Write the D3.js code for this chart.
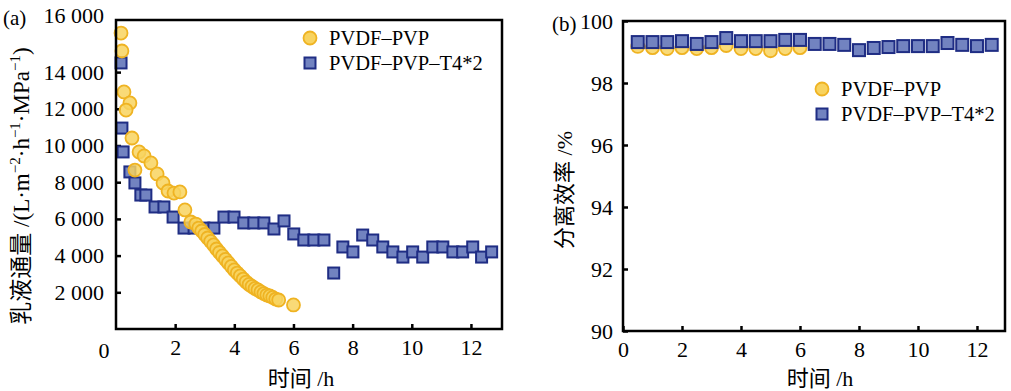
<!DOCTYPE html>
<html>
<head>
<meta charset="utf-8">
<script src="https://cdn.jsdelivr.net/npm/d3@7"></script>
<style>
  body { margin: 0; background: #fff; }
  svg { display: block; font-family: 'Liberation Serif', 'Times New Roman', 'Noto Sans CJK SC', serif; }
</style>
</head>
<body>
<svg id="chart" width="1011" height="391"></svg>
<script>
// (a) flux, PVDF-PVP (circles)
const fluxTimePVP = [0.17, 0.20, 0.27, 0.47, 0.34, 0.54, 0.78, 0.64, 0.95, 1.18, 1.39, 1.59, 1.76, 1.96, 2.16, 2.33, 2.53,
  2.7, 2.8, 2.9, 3.0, 3.1, 3.2, 3.3, 3.4, 3.5, 3.6, 3.7, 3.8, 3.9, 4.0, 4.1, 4.2, 4.3, 4.4, 4.5, 4.6, 4.7, 4.8, 4.9,
  5.0, 5.1, 5.2, 5.3, 5.4, 5.5, 6.0];
const fluxPVP = [16130, 15150, 12920, 12320, 11930, 10410, 9650, 8660, 9430, 9050, 8450, 7960, 7520, 7410, 7470, 6490, 5830,
  5720, 5500, 5340, 5150, 4960, 4770, 4580, 4360, 4170, 3980, 3790, 3600, 3410, 3220, 3050, 2890, 2720, 2560, 2430, 2320,
  2210, 2130, 2020, 1930, 1850, 1800, 1720, 1630, 1580, 1310];

// (a) flux, PVDF-PVP-T4*2 (squares)
const fluxTimeT4 = [0.17, 0.20, 0.24, 0.47, 0.64, 0.84, 1.01, 1.32, 1.62, 1.93, 2.30, 2.64, 2.97, 3.31, 3.65, 3.99, 4.32,
  4.66, 5.00, 5.34, 5.68, 6.01, 6.35, 6.69, 7.03, 7.36, 7.67, 8.01, 8.34, 8.68, 9.02, 9.36, 9.70, 10.03, 10.37, 10.71,
  11.05, 11.39, 11.72, 12.06, 12.36, 12.70];
const fluxT4 = [14500, 10950, 9650, 8560, 7960, 7300, 7300, 6650, 6650, 6100, 5500, 5500, 5500, 5500, 6100, 6100, 5780,
  5780, 5780, 5450, 5890, 5180, 4850, 4850, 4850, 3050, 4470, 4200, 5120, 4850, 4470, 4200, 3920, 4200, 3920, 4470,
  4470, 4200, 4200, 4470, 3920, 4200];

// (b) separation efficiency
const effTimePVP = [0.5, 1.0, 1.5, 2.0, 2.5, 3.0, 3.5, 4.0, 4.5, 5.0, 5.5, 6.0];
const effPVP = [99.18, 99.14, 99.11, 99.14, 99.11, 99.14, 99.21, 99.11, 99.11, 99.04, 99.11, 99.14];
const effTimeT4 = [0.5, 1.0, 1.5, 2.0, 2.5, 3.0, 3.5, 4.0, 4.5, 5.0, 5.5, 6.0, 6.5, 7.0, 7.5, 8.0, 8.5, 9.0, 9.5,
  10.0, 10.5, 11.0, 11.5, 12.0, 12.5];
const effT4 = [99.32, 99.32, 99.32, 99.35, 99.26, 99.32, 99.45, 99.35, 99.35, 99.35, 99.39, 99.39, 99.26, 99.26, 99.23,
  99.06, 99.13, 99.16, 99.19, 99.19, 99.19, 99.29, 99.23, 99.19, 99.23];

const seriesNames = ['PVDF\u2013PVP', 'PVDF\u2013PVP\u2013T4*2'];
const xTicks = [2, 4, 6, 8, 10, 12];
const fluxTicks = [2000, 4000, 6000, 8000, 10000, 12000, 14000];
const effTicks = [90, 92, 94, 96, 98, 100];

const circleFill = '#f8d35f', circleStroke = '#efb322';
const squareFill = '#7283c0', squareStroke = '#1f2d84';

const svg = d3.select('#chart');
const fmt = d3.formatLocale({ decimal: '.', thousands: ' ', grouping: [3], currency: ['', ''] }).format(',');

function styleAxis(g) {
  g.select('.domain').remove();
  g.selectAll('.tick line').attr('stroke', '#000').attr('stroke-width', 2.5);
  g.selectAll('.tick text').attr('font-size', 22).attr('fill', '#000')
    .attr('font-family', "'Liberation Serif', serif");
}

function drawCircles(g, xs, ys, x, y, r) {
  g.append('g').selectAll('circle')
    .data(xs.map((t, i) => ({ t, v: ys[i] })))
    .enter().append('circle')
    .attr('cx', d => x(d.t))
    .attr('cy', d => y(d.v))
    .attr('r', r)
    .attr('fill', circleFill)
    .attr('fill-opacity', 0.85)
    .attr('stroke', circleStroke)
    .attr('stroke-width', 1.8);
}

function drawSquares(g, xs, ys, x, y, s) {
  g.append('g').selectAll('rect')
    .data(xs.map((t, i) => ({ t, v: ys[i] })))
    .enter().append('rect')
    .attr('x', d => x(d.t) - s / 2)
    .attr('y', d => y(d.v) - s / 2)
    .attr('width', s)
    .attr('height', s)
    .attr('fill', squareFill)
    .attr('stroke', squareStroke)
    .attr('stroke-width', 2);
}

function legend(g, lx, ly, gap) {
  g.append('circle').attr('cx', lx).attr('cy', ly).attr('r', 6.5)
    .attr('fill', circleFill).attr('stroke', circleStroke).attr('stroke-width', 1.8);
  g.append('rect').attr('x', lx - 5.5).attr('y', ly + gap - 5.5).attr('width', 11).attr('height', 11)
    .attr('fill', squareFill).attr('stroke', squareStroke).attr('stroke-width', 2);
  seriesNames.forEach((name, i) => {
    g.append('text').attr('x', lx + 19).attr('y', ly + i * gap + 7)
      .attr('font-size', 20.5).text(name);
  });
}

function frame(g, x0, y0, x1, y1) {
  g.append('rect').attr('x', x0).attr('y', y0).attr('width', x1 - x0).attr('height', y1 - y0)
    .attr('fill', 'none').attr('stroke', '#000').attr('stroke-width', 2.5);
}

// ---------- panel (a) ----------
{
  const L = 116, R = 502, T = 20, B = 329;
  const x = d3.scaleLinear().domain([0, 13.05]).range([L, R]);
  const y = d3.scaleLinear().domain([0, 16840]).range([B, T]);
  const g = svg.append('g');

  g.append('g').attr('transform', `translate(0,${B})`)
    .call(d3.axisBottom(x).tickValues(xTicks).tickSizeInner(-5).tickSizeOuter(0).tickPadding(10))
    .call(styleAxis);
  g.append('g').attr('transform', `translate(${L},0)`)
    .call(d3.axisLeft(y).tickValues(fluxTicks).tickFormat(fmt).tickSizeInner(-5).tickSizeOuter(0).tickPadding(12))
    .call(styleAxis);
  // corner labels
  g.append('text').attr('x', x(0) - 12).attr('y', B + 29).attr('text-anchor', 'middle')
    .attr('font-size', 22).text('0');
  g.append('text').attr('x', L - 12).attr('y', T + 3).attr('text-anchor', 'end')
    .attr('font-size', 22).text(fmt(16000));

  drawSquares(g, fluxTimeT4, fluxT4, x, y, 11);
  drawCircles(g, fluxTimePVP, fluxPVP, x, y, 6.5);
  frame(g, L, T, R, B);
  legend(g, 310, 38, 25);

  g.append('text').attr('x', 3).attr('y', 25).attr('font-size', 21).text('(a)');
  g.append('text').attr('x', 301).attr('y', 386).attr('text-anchor', 'middle').attr('font-size', 22)
    .text('时间 /h');
  const yt = g.append('text').attr('transform', 'translate(29,186) rotate(-90)')
    .attr('text-anchor', 'middle').attr('font-size', 23);
  yt.append('tspan').text('乳液通量 /(L·m');
  yt.append('tspan').attr('font-size', 15).attr('dy', -9).text('−2');
  yt.append('tspan').attr('dy', 9).text('·h');
  yt.append('tspan').attr('font-size', 15).attr('dy', -9).text('−1');
  yt.append('tspan').attr('dy', 9).text('·MPa');
  yt.append('tspan').attr('font-size', 15).attr('dy', -9).text('−1');
  yt.append('tspan').attr('dy', 9).text(')');
}

// ---------- panel (b) ----------
{
  const L = 623, R = 1005, T = 21, B = 331;
  const x = d3.scaleLinear().domain([0, 12.95]).range([L, R]);
  const y = d3.scaleLinear().domain([90, 100]).range([B, T]);
  const g = svg.append('g');

  g.append('g').attr('transform', `translate(0,${B})`)
    .call(d3.axisBottom(x).tickValues([0].concat(xTicks)).tickSizeInner(-5).tickSizeOuter(0).tickPadding(10))
    .call(styleAxis);
  g.append('g').attr('transform', `translate(${L},0)`)
    .call(d3.axisLeft(y).tickValues(effTicks).tickSizeInner(-5).tickSizeOuter(0).tickPadding(10))
    .call(styleAxis);

  drawCircles(g, effTimePVP, effPVP, x, y, 6.5);
  drawSquares(g, effTimeT4, effT4, x, y, 12);
  frame(g, L, T, R, B);
  legend(g, 822, 89, 25);

  g.append('text').attr('x', 552).attr('y', 31).attr('font-size', 21).text('(b)');
  g.append('text').attr('x', 820).attr('y', 386).attr('text-anchor', 'middle').attr('font-size', 22)
    .text('时间 /h');
  g.append('text').attr('transform', 'translate(572,190) rotate(-90)')
    .attr('text-anchor', 'middle').attr('font-size', 22).text('分离效率 /%');
}
</script>
</body>
</html>
